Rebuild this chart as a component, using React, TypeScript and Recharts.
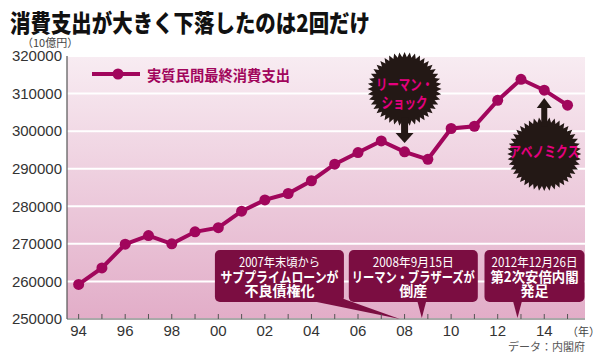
import React from 'react';
import { LineChart, Line, XAxis, YAxis, CartesianGrid, ReferenceDot } from 'recharts';

const years = [1994, 1995, 1996, 1997, 1998, 1999, 2000, 2001, 2002, 2003, 2004, 2005, 2006, 2007, 2008, 2009, 2010, 2011, 2012, 2013, 2014, 2015];
const consumption = [259200, 263600, 269900, 272200, 270000, 273200, 274300, 278700, 281700, 283400, 286800, 291200, 294300, 297400, 294500, 292500, 300700, 301300, 308200, 313800, 310900, 306900];
const yTicks = [250000, 260000, 270000, 280000, 290000, 300000, 310000, 320000];
const xLabelYears = [1994, 1996, 1998, 2000, 2002, 2004, 2006, 2008, 2010, 2012, 2014];
const seriesName = '実質民間最終消費支出';
const title = '消費支出が大きく下落したのは2回だけ';

const burstYears = [2008, 2014];
const burstValues = [311200, 293900];
const burstTexts = [['リーマン・', 'ショック'], ['アベノミクス']];

const calloutDates = [2007.8, 2008.74, 2012.85];
const calloutLine1 = ['2007年末頃から', '2008年9月15日', '2012年12月26日'];
const calloutLine2 = ['サブプライムローンが', 'リーマン・ブラザーズが', '第2次安倍内閣'];
const calloutLine3 = ['不良債権化', '倒産', '発足'];

const data = years.map((y, i) => ({ year: y, value: consumption[i] }));

const LINE = '#a1065c';
const BOX = '#7b0d41';
const BURST = '#231815';
const BURST_TEXT = '#e4007f';
const JP = '"Noto Sans CJK JP", sans-serif';
const NUM = '"Liberation Sans", Arial, sans-serif';

function starPoints(cx: number, cy: number, R: number, r: number, n: number) {
  const pts: string[] = [];
  for (let i = 0; i < 2 * n; i++) {
    const a = (Math.PI * i) / n - Math.PI / 2;
    const rad = i % 2 === 0 ? R : r;
    pts.push(`${(cx + rad * Math.cos(a)).toFixed(2)},${(cy + rad * Math.sin(a)).toFixed(2)}`);
  }
  return pts.join(' ');
}

const LehmanBurst = (props: any) => {
  const { cx, cy } = props;
  if (cx == null || cy == null) return null;
  return (
    <g>
      <polygon points={starPoints(cx, cy, 37, 32, 44)} fill={BURST} />
      <rect x={cx - 3.5} y={cy + 28} width={7} height={18} fill={BURST} />
      <polygon points={`${cx - 9},${cy + 44} ${cx + 9},${cy + 44} ${cx},${cy + 54}`} fill={BURST} />
      <text x={cx} y={cy - 6} textAnchor="middle" dominantBaseline="central" fontFamily={JP} fontWeight={700} fontSize={15} fill={BURST_TEXT} textLength={57} lengthAdjust="spacingAndGlyphs">{burstTexts[0][0]}</text>
      <text x={cx} y={cy + 12} textAnchor="middle" dominantBaseline="central" fontFamily={JP} fontWeight={700} fontSize={15} fill={BURST_TEXT} textLength={46} lengthAdjust="spacingAndGlyphs">{burstTexts[0][1]}</text>
    </g>
  );
};

const AbeBurst = (props: any) => {
  const { cx, cy } = props;
  if (cx == null || cy == null) return null;
  return (
    <g>
      <polygon points={starPoints(cx, cy, 37, 32, 44)} fill={BURST} />
      <rect x={cx - 3} y={cy - 48} width={6} height={20} fill={BURST} />
      <polygon points={`${cx - 7.5},${cy - 46} ${cx + 7.5},${cy - 46} ${cx},${cy - 56}`} fill={BURST} />
      <text x={cx} y={cy - 4} textAnchor="middle" dominantBaseline="central" fontFamily={JP} fontWeight={700} fontSize={15} fill={BURST_TEXT} textLength={70} lengthAdjust="spacingAndGlyphs">{burstTexts[1][0]}</text>
    </g>
  );
};

const calloutGeom = [
  { left: -185, right: -56, tail: (cx: number, cy: number) => `${cx - 88},${cy - 18} ${cx - 56},${cy - 20} ${cx},${cy}`, textDx: -120.5, w2: 118 },
  { left: -73, right: 56, tail: (cx: number, cy: number) => `${cx - 4.5},${cy - 18} ${cx + 4.5},${cy - 18} ${cx},${cy - 1}`, textDx: -8.5, w2: 123 },
  { left: -33, right: 67, tail: (cx: number, cy: number) => `${cx - 4.5},${cy - 18} ${cx + 4.5},${cy - 18} ${cx},${cy - 1}`, textDx: 17, w2: 88 },
];

const makeCallout = (i: number) => (props: any) => {
  const { cx, cy } = props;
  if (cx == null || cy == null) return null;
  const g = calloutGeom[i];
  const tx = cx + g.textDx;
  return (
    <g>
      <polygon points={g.tail(cx, cy)} fill={BOX} />
      <rect x={cx + g.left} y={cy - 69} width={g.right - g.left} height={52} rx={5} ry={5} fill={BOX} />
      <text x={tx} y={cy - 58} textAnchor="middle" dominantBaseline="central" fontFamily={JP} fontSize={12.5} fill="#fff" textLength={i === 2 ? 86 : 81} lengthAdjust="spacingAndGlyphs">{calloutLine1[i]}</text>
      <text x={tx} y={cy - 43.5} textAnchor="middle" dominantBaseline="central" fontFamily={JP} fontWeight={700} fontSize={14} fill="#fff" textLength={g.w2} lengthAdjust="spacingAndGlyphs">{calloutLine2[i]}</text>
      <text x={tx} y={cy - 29} textAnchor="middle" dominantBaseline="central" fontFamily={JP} fontWeight={700} fontSize={14} fill="#fff">{calloutLine3[i]}</text>
    </g>
  );
};

const XTick = (props: any) => {
  const { x, y, payload } = props;
  const v = payload.value as number;
  const show = xLabelYears.includes(v);
  return (
    <g>
      <line x1={x} x2={x} y1={y} y2={y - 5} stroke="#555" strokeWidth={1} />
      {show && (
        <text x={x} y={y + 17} textAnchor="middle" fontFamily={NUM} fontSize={15} fill="#333">
          {String(v % 100).padStart(2, '0')}
        </text>
      )}
    </g>
  );
};

export default function App() {
  return (
    <div style={{ position: 'absolute', left: 0, top: 0, width: 600, height: 360, background: '#fff' }}>
      <LineChart width={600} height={360} data={data} margin={{ top: 56, right: 15, bottom: 11, left: 7 }}>
        <defs>
          <linearGradient id="bgGrad" x1="0" y1="0" x2="0" y2="1">
            <stop offset="0%" stopColor="#f8ecf2" />
            <stop offset="100%" stopColor="#e2adc8" />
          </linearGradient>
        </defs>
        <CartesianGrid vertical={false} stroke="#ffffff" strokeWidth={2} fill="url(#bgGrad)" fillOpacity={1} />
        <XAxis
          dataKey="year"
          type="number"
          domain={[1993.5, 2015.75]}
          ticks={years}
          interval={0}
          height={30}
          tickSize={0}
          tickMargin={0}
          tickLine={false}
          axisLine={{ stroke: '#555', strokeWidth: 1.2 }}
          tick={<XTick />}
        />
        <YAxis
          type="number"
          domain={[250000, 320000]}
          ticks={yTicks}
          width={60}
          tickSize={0}
          tickMargin={5}
          tickLine={false}
          axisLine={{ stroke: '#555', strokeWidth: 1.2 }}
          tick={{ fontFamily: NUM, fontSize: 15, fill: '#333' }}
        />
        <Line dataKey="value" name={seriesName} stroke={LINE} strokeWidth={4} dot={{ r: 5.5, fill: LINE, stroke: 'none' }} isAnimationActive={false} />
        <ReferenceDot x={burstYears[0]} y={burstValues[0]} ifOverflow="visible" shape={<LehmanBurst />} />
        <ReferenceDot x={burstYears[1]} y={burstValues[1]} ifOverflow="visible" shape={<AbeBurst />} />
        <ReferenceDot x={calloutDates[0]} y={250000} ifOverflow="visible" shape={makeCallout(0)} />
        <ReferenceDot x={calloutDates[1]} y={250000} ifOverflow="visible" shape={makeCallout(1)} />
        <ReferenceDot x={calloutDates[2]} y={250000} ifOverflow="visible" shape={makeCallout(2)} />
      </LineChart>
      <svg width={600} height={360} style={{ position: 'absolute', left: 0, top: 0, pointerEvents: 'none' }}>
        <text x={10} y={21} dominantBaseline="central" fontFamily={JP} fontWeight={900} fontSize={24} fill="#111" textLength={360} lengthAdjust="spacingAndGlyphs">{title}</text>
        <text x={22} y={42} dominantBaseline="central" fontFamily={JP} fontSize={11} fill="#444">（10億円）</text>
        <g>
          <line x1={92} x2={140} y1={74} y2={74} stroke={LINE} strokeWidth={4} />
          <circle cx={118} cy={74} r={5.5} fill={LINE} />
          <text x={147} y={74} dominantBaseline="central" fontFamily={JP} fontWeight={700} fontSize={14.5} fill={LINE} textLength={143} lengthAdjust="spacingAndGlyphs">{seriesName}</text>
        </g>
        <text x={567} y={331} dominantBaseline="central" fontFamily={JP} fontSize={11} fill="#444">（年）</text>
        <text x={585} y={346} textAnchor="end" dominantBaseline="central" fontFamily={JP} fontSize={11} fill="#555">データ：内閣府</text>
      </svg>
    </div>
  );
}
